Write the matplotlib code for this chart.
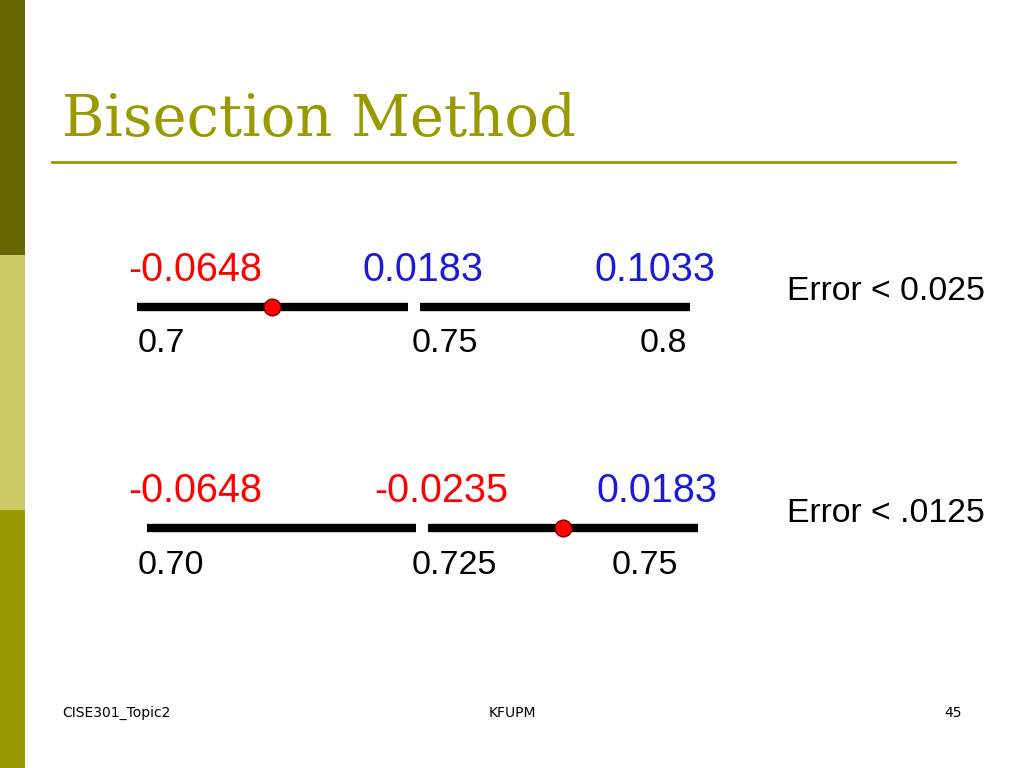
import matplotlib
matplotlib.use("Agg")
import matplotlib.pyplot as plt
from matplotlib.patches import Rectangle

title = "Bisection Method"
row1_values = ["-0.0648", "0.0183", "0.1033"]
row1_colors = ["red", "#1a1adb", "#1a1adb"]
row1_ticks = ["0.7", "0.75", "0.8"]
row1_error = "Error < 0.025"
row2_values = ["-0.0648", "-0.0235", "0.0183"]
row2_colors = ["red", "red", "#1a1adb"]
row2_ticks = ["0.70", "0.725", "0.75"]
row2_error = "Error < .0125"
footer = ["CISE301_Topic2", "KFUPM", "45"]

fig = plt.figure(figsize=(10.24, 7.68), dpi=100)
ax = fig.add_axes([0, 0, 1, 1])
ax.set_xlim(0, 1024); ax.set_ylim(768, 0); ax.axis("off")

for y0, y1, c in [(0, 255, "#666600"), (255, 510, "#cccc66"), (510, 768, "#999900")]:
    ax.add_patch(Rectangle((0, y0), 25, y1 - y0, color=c, lw=0))

ax.text(62, 120, title, family="DejaVu Serif", fontsize=41.5, color="#999900", va="center")
ax.plot([52, 955], [162, 162], color="#999900", lw=2)

def row(y, segs, dot, vals, cols, vx, ticks, tx, err):
    for a, b in segs:
        ax.plot([a, b], [y, y], color="black", lw=6, solid_capstyle="butt")
    ax.plot(dot, y, "o", ms=12, mfc="red", mec="#800000", mew=1)
    for v, c, x in zip(vals, cols, vx):
        ax.text(x, y - 37, v, color=c, fontsize=28.5, va="center", family="Liberation Sans")
    for t, x in zip(ticks, tx):
        ax.text(x, y + 37, t, fontsize=24.5, va="center", family="Liberation Sans")
    ax.text(787, y - 15, err, fontsize=24.3, va="center", family="Liberation Sans")

row(307, [(137, 408), (420, 690)], 272, row1_values, row1_colors, [128, 363, 594],
    row1_ticks, [138, 412, 640], row1_error)
row(528, [(147, 416), (428, 698)], 563, row2_values, row2_colors, [128, 374, 597],
    row2_ticks, [138, 412, 612], row2_error)

ax.text(62, 713, footer[0], fontsize=10, va="center")
ax.text(512, 713, footer[1], fontsize=10, va="center", ha="center")
ax.text(962, 713, footer[2], fontsize=10, va="center", ha="right")

fig.savefig("out.png", dpi=100)
